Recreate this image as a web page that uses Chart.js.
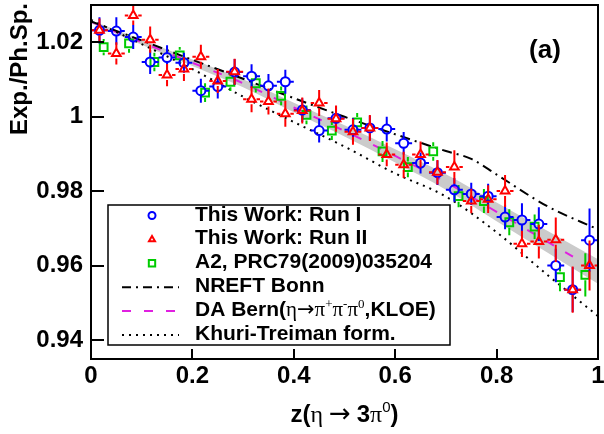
<!DOCTYPE html>
<html>
<head>
<meta charset="utf-8">
<script src="https://cdn.jsdelivr.net/npm/chart.js"></script>
<style>
  html, body { margin: 0; padding: 0; background: #fff; }
  #wrap { width: 604px; height: 434px; }
</style>
</head>
<body>
<div id="wrap"><canvas id="c" width="604" height="434"></canvas></div>
<script>
// === data ===
// bin centres of the two runs (30 bins) and of the A2 result (20 bins)
const zRun = [0.0167, 0.05, 0.0833, 0.1167, 0.15, 0.1833, 0.2167, 0.25, 0.2833, 0.3167,
              0.35, 0.3833, 0.4167, 0.45, 0.4833, 0.5167, 0.55, 0.5833, 0.6167, 0.65,
              0.6833, 0.7167, 0.75, 0.7833, 0.8167, 0.85, 0.8833, 0.9167, 0.95, 0.9833];
const zA2 = [0.025, 0.075, 0.125, 0.175, 0.225, 0.275, 0.325, 0.375, 0.425, 0.475,
             0.525, 0.575, 0.625, 0.675, 0.725, 0.775, 0.825, 0.875, 0.925, 0.975];

const runI = [1.0232, 1.0230, 1.0214, 1.0147, 1.0159, 1.0145, 1.0070, 1.0081, 1.0120, 1.0109,
              1.0083, 1.0094, 1.0018, 0.9963, 0.9996, 0.9965, 0.9970, 0.9967, 0.9929, 0.9876,
              0.9850, 0.9804, 0.9793, 0.9787, 0.9731, 0.9723, 0.9712, 0.9601, 0.9536, 0.9669];
const runIErr = [0.0035, 0.0037, 0.0032, 0.0032, 0.0033, 0.0027, 0.0032, 0.0032, 0.0035, 0.0032,
                 0.0032, 0.0032, 0.0032, 0.0032, 0.0032, 0.0032, 0.0033, 0.0033, 0.0030, 0.0028,
                 0.0033, 0.0032, 0.0030, 0.0033, 0.0033, 0.0045, 0.0045, 0.0045, 0.0060, 0.0085];

const runII = [1.0232, 1.0170, 1.0272, 1.0207, 1.0112, 1.0128, 1.0161, 1.0096, 1.0121, 1.0047,
               1.0041, 1.0008, 1.0017, 1.0037, 0.9995, 0.9960, 0.9970, 0.9899, 0.9871, 0.9899,
               0.9851, 0.9865, 0.9774, 0.9779, 0.9801, 0.9659, 0.9665, 0.9670, 0.9536, 0.9601];
const runIIErr = [0.0032, 0.0030, 0.0026, 0.0035, 0.0030, 0.0032, 0.0032, 0.0032, 0.0035, 0.0035,
                  0.0035, 0.0035, 0.0035, 0.0035, 0.0035, 0.0035, 0.0035, 0.0032, 0.0035, 0.0035,
                  0.0033, 0.0045, 0.0033, 0.0037, 0.0043, 0.0035, 0.0045, 0.0060, 0.0062, 0.0067];

const a2 = [1.0187, 1.0197, 1.0147, 1.0165, 1.0065, 1.0094, 1.0090, 1.0056, 1.0005, 0.9963,
            0.9985, 0.9907, 0.9865, 0.9907, 0.9787, 0.9774, 0.9717, 0.9705, 0.9570, 0.9576];
const a2Err = [0.0022, 0.0025, 0.0025, 0.0022, 0.0025, 0.0025, 0.0025, 0.0025, 0.0025, 0.0025,
               0.0025, 0.0028, 0.0027, 0.0025, 0.0030, 0.0032, 0.0035, 0.0033, 0.0038, 0.0058];

// theory curves
const zNreft = [0, 0.1, 0.2, 0.3, 0.4, 0.5, 0.6, 0.7, 0.75, 0.8, 0.9, 1.0];
const nreft  = [1.0256, 1.0205, 1.0153, 1.0102, 1.0050, 1.0000, 0.9953, 0.9908, 0.9887, 0.9845, 0.9760, 0.9698];

const zTheory = [0, 0.1, 0.2, 0.3, 0.4, 0.5, 0.6, 0.7, 0.8, 0.9, 1.0];
const daBern  = [1.0255, 1.0200, 1.0145, 1.0090, 1.0025, 0.9962, 0.9895, 0.9825, 0.9745, 0.9665, 0.9585];
const daBand  = [0.0004, 0.0007, 0.0009, 0.0011, 0.0013, 0.0015, 0.0018, 0.0021, 0.0025, 0.0029, 0.0033];
const khuri   = [1.0260, 1.0195, 1.0128, 1.0054, 0.9986, 0.9920, 0.9848, 0.9786, 0.9690, 0.9576, 0.9465];

const xTicks = [0, 0.2, 0.4, 0.6, 0.8, 1];
const yTicks = [0.94, 0.96, 0.98, 1.0, 1.02];

const SANS = '"Liberation Sans", Arial, Helvetica, sans-serif';
const SERIF = '"Liberation Serif", "DejaVu Serif", serif';
const ARROW = '"DejaVu Sans", sans-serif';
const BLUE = '#0000ff', RED = '#ff0000', GREEN = '#00cc00', MAGENTA = '#e020e0', BAND = '#cbcbcb';

const pts = (xs, ys) => xs.map((x, i) => ({ x, y: ys[i] }));
const fmt = v => String(+v.toFixed(2));

// === plugins ===
// vertical (and horizontal) error bars, stopping at the marker edge
const errorBars = {
  id: 'errorBars',
  beforeDatasetDraw(chart, args) {
    const ds = chart.data.datasets[args.index];
    if (!ds.errY) return;
    const { ctx, chartArea: a, scales: { x, y } } = chart;
    ctx.save();
    ctx.beginPath();
    ctx.rect(a.left, a.top, a.right - a.left, a.bottom - a.top);
    ctx.clip();
    ctx.strokeStyle = ds.borderColor;
    ctx.lineWidth = 2;
    const gap = ds.pointRadius;
    ds.data.forEach((p, i) => {
      const px = x.getPixelForValue(p.x), py = y.getPixelForValue(p.y);
      const top = y.getPixelForValue(p.y + ds.errY[i]);
      const bot = y.getPixelForValue(p.y - ds.errY[i]);
      ctx.beginPath();
      if (top < py - gap) { ctx.moveTo(px, top); ctx.lineTo(px, py - gap); }
      if (bot > py + gap) { ctx.moveTo(px, py + gap); ctx.lineTo(px, bot); }
      if (ds.errX) {
        const l = x.getPixelForValue(p.x - ds.errX), r = x.getPixelForValue(p.x + ds.errX);
        ctx.moveTo(l, py); ctx.lineTo(px - gap, py);
        ctx.moveTo(px + gap, py); ctx.lineTo(r, py);
      }
      ctx.stroke();
    });
    ctx.restore();
  }
};

// text made of pieces in different fonts (greek letters, superscripts)
function drawRich(ctx, parts, x, y, align) {
  let w = 0;
  parts.forEach(p => { ctx.font = p[1]; w += ctx.measureText(p[0]).width; });
  let cx = align === 'center' ? x - w / 2 : x;
  ctx.textAlign = 'left';
  ctx.textBaseline = 'alphabetic';
  parts.forEach(p => {
    ctx.font = p[1];
    ctx.fillText(p[0], cx, y - (p[2] || 0));
    cx += ctx.measureText(p[0]).width;
  });
}

// frame, inward ticks, axis titles, legend box and panel tag
const decor = {
  id: 'decor',
  afterDraw(chart) {
    const { ctx, chartArea: a, scales: { x, y } } = chart;
    ctx.save();
    ctx.strokeStyle = '#000';
    ctx.lineWidth = 2;
    ctx.strokeRect(a.left, a.top, a.right - a.left, a.bottom - a.top);
    ctx.beginPath();
    yTicks.forEach(v => {
      const p = Math.round(y.getPixelForValue(v));
      ctx.moveTo(a.left, p); ctx.lineTo(a.left + 13, p);
    });
    xTicks.forEach(v => {
      const p = Math.round(x.getPixelForValue(v));
      ctx.moveTo(p, a.bottom); ctx.lineTo(p, a.bottom - 10);
    });
    ctx.stroke();

    ctx.fillStyle = '#000';
    // x title
    const B24 = 'bold 24px ' + SANS, S24 = '24px ' + SERIF;
    drawRich(ctx, [['z(', B24], ['\u03b7 ', S24], ['\u2192', '26px ' + ARROW], [' ', S24], ['3', B24],
                   ['\u03c0', S24], ['0', '15px ' + SANS, 10], [')', B24]],
             (a.left + a.right) / 2, 422, 'center');
    // y title
    ctx.save();
    ctx.translate(27, 3);
    ctx.rotate(-Math.PI / 2);
    ctx.font = B24;
    ctx.textAlign = 'right';
    ctx.textBaseline = 'alphabetic';
    ctx.fillText('Exp./Ph.Sp.', 0, 0);
    ctx.restore();
    // panel tag
    ctx.font = 'bold 26px ' + SANS;
    ctx.textAlign = 'center';
    ctx.fillText('(a)', 545, 58);

    // legend
    ctx.fillStyle = '#fff';
    ctx.fillRect(108, 205, 342, 140);
    ctx.lineWidth = 1.5;
    ctx.strokeRect(108, 205, 342, 140);
    const B21 = 'bold 21px ' + SANS, S21 = '21px ' + SERIF, s13 = '13px ' + SERIF;
    const rows = [
      { mark: 'circle', color: BLUE, text: [['This Work: Run I', B21]] },
      { mark: 'triangle', color: RED, text: [['This Work: Run II', B21]] },
      { mark: 'rect', color: GREEN, text: [['A2, PRC79(2009)035204', B21]] },
      { dash: [9, 5, 2, 5], color: '#000', text: [['NREFT Bonn', B21]] },
      { dash: [9, 13], color: MAGENTA, text: [['DA Bern(', B21], ['\u03b7', S21], ['\u2192', '21px ' + ARROW],
                                             ['\u03c0', S21], ['+', s13, 8], ['\u03c0', S21], ['-', s13, 8],
                                             ['\u03c0', S21], ['0', s13, 8], [',KLOE)', B21]] },
      { dash: [2, 5], color: '#000', text: [['Khuri-Treiman form.', B21]] }
    ];
    rows.forEach((r, i) => {
      const base = 220.5 + i * 23.9, cy = base - 5;
      ctx.strokeStyle = r.color;
      ctx.lineWidth = 2;
      if (r.mark) {
        ctx.fillStyle = 'rgba(0,0,0,0)';
        Chart.helpers.drawPoint(ctx, { pointStyle: r.mark, radius: r.mark === 'rect' ? 4.5 : 3.5, borderWidth: 2, rotation: 0 }, 152, cy);
      } else {
        ctx.setLineDash(r.dash);
        ctx.beginPath();
        ctx.moveTo(122, cy); ctx.lineTo(179, cy);
        ctx.stroke();
        ctx.setLineDash([]);
      }
      ctx.fillStyle = '#000';
      drawRich(ctx, r.text, 195, base, 'left');
    });
    ctx.restore();
  }
};

// === chart ===
const pointSet = (label, xs, ys, errs, style, color, radius, errX) => ({
  label, data: pts(xs, ys), showLine: false, pointStyle: style, pointRadius: radius,
  pointBorderWidth: 2, borderWidth: 2, borderColor: color, backgroundColor: 'rgba(0,0,0,0)',
  errY: errs, errX
});
const curve = (label, xs, ys, color, dash) => ({
  label, data: pts(xs, ys), showLine: true, pointRadius: 0, borderColor: color, borderWidth: 2,
  borderDash: dash, cubicInterpolationMode: 'monotone', fill: false
});

new Chart(document.getElementById('c'), {
  type: 'scatter',
  data: {
    datasets: [
      pointSet('This Work: Run II', zRun, runII, runIIErr, 'triangle', RED, 5, 1 / 60),
      pointSet('This Work: Run I', zRun, runI, runIErr, 'circle', BLUE, 4.5, 1 / 60),
      pointSet('A2, PRC79(2009)035204', zA2, a2, a2Err, 'rect', GREEN, 5.5, 0),
      curve('NREFT Bonn', zNreft, nreft, '#000', [10, 5, 2, 5]),
      curve('Khuri-Treiman form.', zTheory, khuri, '#000', [2, 5]),
      curve('DA Bern', zTheory, daBern, MAGENTA, [9, 13]),
      { label: 'band hi', data: pts(zTheory, daBern.map((v, i) => v + daBand[i])), showLine: true,
        pointRadius: 0, borderWidth: 0, borderColor: BAND, cubicInterpolationMode: 'monotone', fill: false },
      { label: 'band lo', data: pts(zTheory, daBern.map((v, i) => v - daBand[i])), showLine: true,
        pointRadius: 0, borderWidth: 0, borderColor: BAND, backgroundColor: BAND,
        cubicInterpolationMode: 'monotone', fill: '-1' }
    ]
  },
  options: {
    responsive: false,
    devicePixelRatio: 1,
    animation: false,
    layout: { autoPadding: false, padding: { top: 5, right: 6, left: 0, bottom: 0 } },
    plugins: { legend: { display: false }, tooltip: { enabled: false } },
    scales: {
      x: {
        type: 'linear', min: 0, max: 1,
        grid: { display: false, drawTicks: false }, border: { display: false },
        ticks: { padding: 3, color: '#000', maxRotation: 0, autoSkip: false,
                 font: { family: SANS, size: 24, weight: 'bold' }, callback: v => fmt(v) },
        afterBuildTicks: s => { s.ticks = xTicks.map(v => ({ value: v })); },
        afterFit: s => { s.height = 75; s.paddingLeft = 0; s.paddingRight = 0; }
      },
      y: {
        type: 'linear', min: 0.935, max: 1.03,
        grid: { display: false, drawTicks: false }, border: { display: false },
        ticks: { padding: 8, color: '#000', autoSkip: false,
                 font: { family: SANS, size: 24, weight: 'bold' }, callback: v => fmt(v) },
        afterBuildTicks: s => { s.ticks = yTicks.map(v => ({ value: v })); },
        afterFit: s => { s.width = 91; s.paddingTop = 0; s.paddingBottom = 0; }
      }
    }
  },
  plugins: [errorBars, decor]
});
</script>
</body>
</html>
